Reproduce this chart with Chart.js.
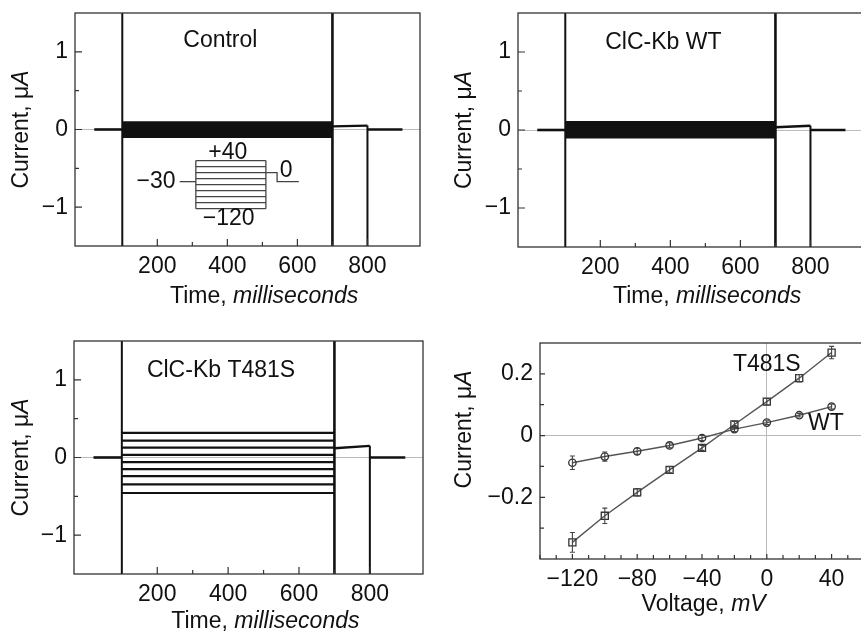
<!DOCTYPE html>
<html>
<head>
<meta charset="utf-8">
<title>ClC-Kb currents</title>
<script src="https://cdn.jsdelivr.net/npm/chart.js@4.4.0/dist/chart.umd.min.js"></script>
<style>
  html, body { margin: 0; padding: 0; background: #fff; overflow: hidden; }
  body { position: relative; width: 861px; height: 638px; }
  .panel { position: absolute; }
</style>
</head>
<body>
<div class="panel" style="left:0;top:0;width:430px;height:320px"><canvas id="control"></canvas></div>
<div class="panel" style="left:430px;top:0;width:443px;height:320px"><canvas id="wt"></canvas></div>
<div class="panel" style="left:0;top:320px;width:430px;height:318px"><canvas id="t481s"></canvas></div>
<div class="panel" style="left:430px;top:320px;width:443px;height:318px"><canvas id="iv"></canvas></div>
<script>
// step potentials of the protocol, mV (traces listed from +40 down to -120)
const stepVoltages = [40, 20, 0, -20, -40, -60, -80, -100, -120];
const holdingMv = -30;
const tailMv = 0;

// protocol timing, ms
const traceStart = 20;
const pulseOn = 100;
const pulseOff = 700;
const tailOff = 800;
const traceEnd = 900;

// steady currents during each step, uA
const controlLevels = [0.085, 0.065, 0.045, 0.025, 0.005, -0.02, -0.04, -0.065, -0.09];
const wtLevels = [0.094, 0.066, 0.042, 0.021, -0.008, -0.032, -0.051, -0.068, -0.088];
const t481sLevels = [0.317, 0.218, 0.128, 0.034, -0.06, -0.15, -0.24, -0.346, -0.457];

// tail current at 0 mV (start, end), uA
const controlTail = [0.04, 0.05];
const wtTail = [0.035, 0.055];
const t481sTail = [0.12, 0.15];
const holdingCurrent = 0;

// current-voltage relation
const ivVoltages = [-120, -100, -80, -60, -40, -20, 0, 20, 40];
const ivT481S = [-0.346, -0.26, -0.184, -0.111, -0.04, 0.036, 0.11, 0.186, 0.269];
const ivT481SErr = [0.032, 0.025, 0.012, 0.01, 0.008, 0.01, 0.01, 0.012, 0.02];
const ivWT = [-0.088, -0.068, -0.051, -0.032, -0.008, 0.021, 0.042, 0.066, 0.094];
const ivWTErr = [0.022, 0.015, 0.01, 0.008, 0.008, 0.008, 0.006, 0.006, 0.008];

// ticks
const timeTicks = [200, 400, 600, 800];
const timeMinorTicks = [300, 500, 700];
const currentTicks = [-1, 0, 1];
const currentMinorTicks = [-0.5, 0.5];
const voltageTicks = [-120, -80, -40, 0, 40];
const voltageMinorTicks = [-140, -130, -110, -100, -90, -70, -60, -50, -30, -20, -10, 10, 20, 30, 50, 60];
const ivCurrentTicks = [-0.2, 0, 0.2];
const ivCurrentMinorTicks = [-0.3, -0.1, 0.1];

const FONT = '"Liberation Sans", Arial, Helvetica, sans-serif';
const SIZE = 23;
const INK = '#111';
Chart.defaults.font.family = FONT;
Chart.defaults.font.size = SIZE;
Chart.defaults.color = INK;
Chart.defaults.animation = false;

const minus = v => String(v).replace('-', '\u2212');

// box round the plot area
const frame = {
  id: 'frame',
  afterDatasetsDraw(chart) {
    const { ctx, chartArea: a } = chart;
    ctx.save();
    ctx.strokeStyle = '#333';
    ctx.lineWidth = 1.3;
    ctx.strokeRect(a.left, a.top, a.width, a.height);
    ctx.restore();
  }
};

// tick marks pointing into the plot
const innerTicks = {
  id: 'innerTicks',
  afterDatasetsDraw(chart, args, o) {
    const { ctx, chartArea: a, scales: { x, y } } = chart;
    ctx.save();
    ctx.strokeStyle = '#333';
    ctx.lineWidth = 1.2;
    ctx.beginPath();
    const xt = (vals, len) => vals.forEach(v => {
      const px = x.getPixelForValue(v);
      ctx.moveTo(px, a.bottom); ctx.lineTo(px, a.bottom - len);
    });
    const yt = (vals, len) => vals.forEach(v => {
      const py = y.getPixelForValue(v);
      ctx.moveTo(a.left, py); ctx.lineTo(a.left + len, py);
    });
    xt(o.xMajor || [], o.major); xt(o.xMinor || [], o.minor);
    yt(o.yMajor || [], o.major); yt(o.yMinor || [], o.minor);
    ctx.stroke();
    ctx.restore();
  }
};

// vertical error bars from dataset.errors
const errorBars = {
  id: 'errorBars',
  afterDatasetsDraw(chart) {
    const { ctx, scales: { y } } = chart;
    ctx.save();
    ctx.strokeStyle = '#444';
    ctx.lineWidth = 1.1;
    chart.data.datasets.forEach((ds, i) => {
      if (!ds.errors) return;
      chart.getDatasetMeta(i).data.forEach((pt, j) => {
        const v = ds.data[j].y, e = ds.errors[j];
        const y0 = y.getPixelForValue(v - e), y1 = y.getPixelForValue(v + e);
        ctx.beginPath();
        ctx.moveTo(pt.x, y0); ctx.lineTo(pt.x, y1);
        ctx.moveTo(pt.x - 2.5, y0); ctx.lineTo(pt.x + 2.5, y0);
        ctx.moveTo(pt.x - 2.5, y1); ctx.lineTo(pt.x + 2.5, y1);
        ctx.stroke();
      });
    });
    ctx.restore();
  }
};

// axis titles and notes with mixed upright / italic parts
const richText = {
  id: 'richText',
  afterDraw(chart, args, o) {
    const { ctx, chartArea: a, scales: { x, y } } = chart;
    const put = (parts, px, py, align, rotate) => {
      ctx.save();
      ctx.translate(px, py);
      if (rotate) ctx.rotate(-Math.PI / 2);
      ctx.textBaseline = 'middle';
      ctx.textAlign = 'left';
      ctx.fillStyle = INK;
      const fonts = parts.map(p => (p[1] ? 'italic ' : '') + SIZE + 'px ' + FONT);
      const widths = parts.map((p, i) => { ctx.font = fonts[i]; return ctx.measureText(p[0]).width; });
      const total = widths.reduce((s, w) => s + w, 0);
      let cx = align === 'right' ? -total : -total / 2;
      parts.forEach((p, i) => { ctx.font = fonts[i]; ctx.fillText(p[0], cx, 0); cx += widths[i]; });
      ctx.restore();
    };
    if (o.xTitle) put(o.xTitle, x.getPixelForValue(o.xTitleAt), a.bottom + o.xTitleGap);
    if (o.yTitle) put(o.yTitle, a.left - o.yTitleGap, y.getPixelForValue(o.yTitleAt), 'center', true);
    (o.notes || []).forEach(n => put(n.parts, x.getPixelForValue(n.x), y.getPixelForValue(n.y), n.align));
  }
};

const currentTitle = [['Current, \u03bc'], ['A', true]];
const timeTitle = [['Time, '], ['milliseconds', true]];

function seg(points, width, color) {
  return {
    data: points,
    showLine: true,
    borderColor: color || INK,
    borderWidth: width,
    pointRadius: 0,
    clip: 0
  };
}

function traceDatasets(levels, tail, levelWidth) {
  const ds = [];
  ds.push(seg([{ x: traceStart, y: holdingCurrent }, { x: pulseOn, y: holdingCurrent }], 2.6));
  levels.forEach(v => ds.push(seg([{ x: pulseOn, y: v }, { x: pulseOff, y: v }], levelWidth)));
  ds.push(seg([{ x: pulseOff, y: tail[0] }, { x: tailOff, y: tail[1] }], 2.4));
  ds.push(seg([{ x: tailOff, y: holdingCurrent }, { x: traceEnd, y: holdingCurrent }], 2.6));
  // capacitive transients run off scale
  ds.push(seg([{ x: pulseOn, y: -2 }, { x: pulseOn, y: 2 }], 2));
  ds.push(seg([{ x: pulseOff, y: -2 }, { x: pulseOff, y: 2 }], 2.6));
  ds.push(seg([{ x: tailOff, y: tail[1] }, { x: tailOff, y: -2 }], 2));
  return ds;
}

// schematic of the voltage protocol drawn inside the control panel
const inset = { t0: 264, t1: 310, t2: 510, t3: 542, t4: 604, top: -0.4, perMv: 0.003875 };
const insetY = mv => inset.top - (stepVoltages[0] - mv) * inset.perMv;
function insetDatasets() {
  const c = '#444', w = 1.3;
  const ds = stepVoltages.map(v => seg([{ x: inset.t1, y: insetY(v) }, { x: inset.t2, y: insetY(v) }], w, c));
  const low = insetY(stepVoltages[stepVoltages.length - 1]);
  ds.push(seg([{ x: inset.t1, y: inset.top }, { x: inset.t1, y: low }], w, c));
  ds.push(seg([{ x: inset.t2, y: inset.top }, { x: inset.t2, y: low }], w, c));
  ds.push(seg([{ x: inset.t0, y: insetY(holdingMv) }, { x: inset.t1, y: insetY(holdingMv) }], w, c));
  ds.push(seg([
    { x: inset.t2, y: insetY(tailMv) }, { x: inset.t3, y: insetY(tailMv) },
    { x: inset.t3, y: insetY(holdingMv) }, { x: inset.t4, y: insetY(holdingMv) }
  ], w, c));
  return ds;
}

function scales(xMin, xMax, xTicks, yMin, yMax, yTicks, yw, xh, zeroX) {
  const zeroGrid = c => (c.tick && c.tick.value === 0 ? '#bbb' : 'rgba(0,0,0,0)');
  return {
    x: {
      type: 'linear', min: xMin, max: xMax,
      afterBuildTicks: s => { s.ticks = xTicks.map(v => ({ value: v })); },
      afterFit: s => { s.height = xh; s.paddingLeft = 0; s.paddingRight = 0; },
      ticks: { padding: 7, callback: minus },
      grid: { drawTicks: false, color: zeroX ? zeroGrid : 'rgba(0,0,0,0)', lineWidth: 1 },
      border: { display: false }
    },
    y: {
      type: 'linear', min: yMin, max: yMax,
      afterBuildTicks: s => { s.ticks = yTicks.map(v => ({ value: v })); },
      afterFit: s => { s.width = yw; s.paddingTop = 0; s.paddingBottom = 0; },
      ticks: { padding: 7, callback: minus },
      grid: { drawTicks: false, color: zeroGrid, lineWidth: 1 },
      border: { display: false }
    }
  };
}

function traceChart(id, datasets, notes, box) {
  return new Chart(document.getElementById(id), {
    type: 'scatter',
    data: { datasets },
    options: {
      responsive: true,
      maintainAspectRatio: false,
      layout: { padding: { top: box.top, right: box.right, left: 0, bottom: 0 } },
      scales: scales(-35, 950, timeTicks, -1.5, 1.5, currentTicks, box.yw, box.xh, false),
      plugins: {
        legend: { display: false },
        tooltip: { enabled: false },
        innerTicks: { xMajor: timeTicks, xMinor: timeMinorTicks, yMajor: currentTicks, yMinor: currentMinorTicks, major: 7, minor: 4 },
        richText: {
          xTitle: timeTitle, xTitleAt: 505, xTitleGap: box.xGap,
          yTitle: currentTitle, yTitleAt: 0, yTitleGap: box.yGap,
          notes
        }
      }
    },
    plugins: [frame, innerTicks, richText]
  });
}

traceChart('control',
  traceDatasets(controlLevels, controlTail, 3.2).concat(insetDatasets()),
  [
    { parts: [['Control']], x: 380, y: 1.14 },
    { parts: [['+40']], x: 401, y: -0.295 },
    { parts: [['\u2212120']], x: 404, y: -1.154 },
    { parts: [['\u221230']], x: 252, y: -0.675, align: 'right' },
    { parts: [['0']], x: 568, y: -0.536 }
  ],
  { top: 13, right: 10, yw: 75, xh: 74, xGap: 51, yGap: 53 });

traceChart('wt',
  traceDatasets(wtLevels, wtTail, 3.2),
  [{ parts: [['ClC-Kb WT']], x: 380, y: 1.115 }],
  { top: 13, right: 10, yw: 88, xh: 73, xGap: 50, yGap: 53 });

traceChart('t481s',
  traceDatasets(t481sLevels, t481sTail, 2.2),
  [{ parts: [['ClC-Kb T481S']], x: 380, y: 1.115 }],
  { top: 21, right: 7, yw: 74, xh: 64, xGap: 48, yGap: 52 });

const ivPoint = (v, i) => ({ x: v, y: i });
new Chart(document.getElementById('iv'), {
  type: 'scatter',
  data: {
    datasets: [
      {
        data: ivVoltages.map((v, i) => ivPoint(v, ivT481S[i])),
        errors: ivT481SErr,
        showLine: true,
        borderColor: '#555',
        borderWidth: 1.4,
        pointStyle: 'rect',
        pointRadius: 5,
        pointBorderColor: '#333',
        pointBorderWidth: 1.3,
        pointBackgroundColor: 'rgba(255,255,255,0)'
      },
      {
        data: ivVoltages.map((v, i) => ivPoint(v, ivWT[i])),
        errors: ivWTErr,
        showLine: true,
        borderColor: '#555',
        borderWidth: 1.4,
        pointStyle: 'circle',
        pointRadius: 3.7,
        pointBorderColor: '#333',
        pointBorderWidth: 1.3,
        pointBackgroundColor: 'rgba(255,255,255,0)'
      }
    ]
  },
  options: {
    responsive: true,
    maintainAspectRatio: false,
    layout: { padding: { top: 23, right: 9, left: 0, bottom: 0 } },
    scales: scales(-140, 60, voltageTicks, -0.4, 0.3, ivCurrentTicks, 110, 79, true),
    plugins: {
      legend: { display: false },
      tooltip: { enabled: false },
      innerTicks: { xMajor: voltageTicks, xMinor: voltageMinorTicks, yMajor: ivCurrentTicks, yMinor: ivCurrentMinorTicks, major: 5, minor: 4 },
      richText: {
        xTitle: [['Voltage, '], ['mV', true]], xTitleAt: -39, xTitleGap: 46,
        yTitle: currentTitle, yTitleAt: 0.02, yTitleGap: 75,
        notes: [
          { parts: [['T481S']], x: 0, y: 0.229 },
          { parts: [['WT']], x: 36.5, y: 0.039 }
        ]
      }
    }
  },
  plugins: [frame, innerTicks, errorBars, richText]
});
</script>
</body>
</html>
